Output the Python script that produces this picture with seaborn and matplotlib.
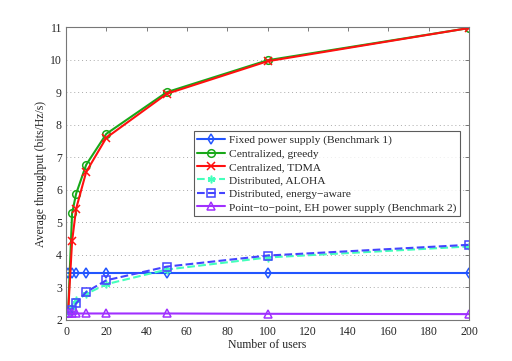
import matplotlib
matplotlib.use("Agg")
import matplotlib.pyplot as plt
import seaborn as sns
import pandas as pd

sns.set_style("white")
plt.rcParams['font.family'] = ['Liberation Serif', 'DejaVu Serif']

users = [1, 3, 5, 10, 20, 50, 100, 200]
fixed = [3.45, 3.45, 3.45, 3.45, 3.45, 3.45, 3.45, 3.45]
greedy = [2.2, 5.28, 5.88, 6.77, 7.72, 9.0, 9.98, 10.97]
tdma = [2.2, 4.42, 5.42, 6.55, 7.6, 8.95, 9.95, 10.97]
aloha = [2.2, 2.4, 2.6, 2.8, 3.1, 3.55, 3.92, 4.26]
energy = [2.2, 2.3, 2.51, 2.86, 3.22, 3.64, 3.98, 4.31]
p2p = [2.2, 2.2, 2.2, 2.2, 2.2, 2.2, 2.19, 2.18]

labels = ["Fixed power supply (Benchmark 1)", "Centralized, greedy",
          "Centralized, TDMA", "Distributed, ALOHA",
          "Distributed, energy\u2212aware",
          "Point\u2212to\u2212point, EH power supply (Benchmark 2)"]
series = [fixed, greedy, tdma, aloha, energy, p2p]
colors = ["#2255ff", "#18a818", "#ff1010", "#44ffbb", "#4444ff", "#a030ff"]
markers = ["d", "o", "x", (6, 2, 0), "s", "^"]
dashed = [False, False, False, True, True, False]
filled = [False, False, True, True, False, False]

fig = plt.figure(figsize=(5.12, 3.61), dpi=100)
ax = fig.add_axes([0.129, 0.1136, 0.787, 0.8114])

for lab, vals, c, m, d, f in zip(labels, series, colors, markers, dashed, filled):
    df = pd.DataFrame({"x": users, "y": vals})
    sns.lineplot(data=df, x="x", y="y", ax=ax, color=c, marker=m,
                 linestyle="--" if d else "-", linewidth=1.5,
                 markersize=5.5, markeredgewidth=1.1,
                 markerfacecolor=c if f else "none", markeredgecolor=c,
                 label=lab)

ax.set_xlim(0, 200)
ax.set_ylim(2, 11)
ax.set_xticks(range(0, 201, 20))
ax.set_yticks(range(2, 12))
ax.set_xlabel("Number of users", fontsize=8.5, labelpad=1)
ax.set_ylabel("Average throughput (bits/Hz/s)", fontsize=8.5, labelpad=2)
ax.tick_params(direction="in", top=True, right=True, labelsize=8.5,
               length=3, width=0.6, color="#666666")
ax.tick_params(axis="x", pad=4)
ax.tick_params(axis="y", pad=3)
ax.yaxis.grid(True, linestyle=(0, (1, 3)), color="#aaaaaa", linewidth=0.7)
for s in ax.spines.values():
    s.set_color("#777777")
    s.set_linewidth(0.8)

leg = ax.legend(loc="upper right", bbox_to_anchor=(0.899, 0.636),
                bbox_transform=fig.transFigure, fontsize=8.25,
                frameon=True, fancybox=False, edgecolor="#333333",
                handlelength=2.4, labelspacing=0.3, borderpad=0.3,
                handletextpad=0.4, borderaxespad=0)
leg.get_frame().set_linewidth(0.8)

fig.savefig("out.png", dpi=100)
